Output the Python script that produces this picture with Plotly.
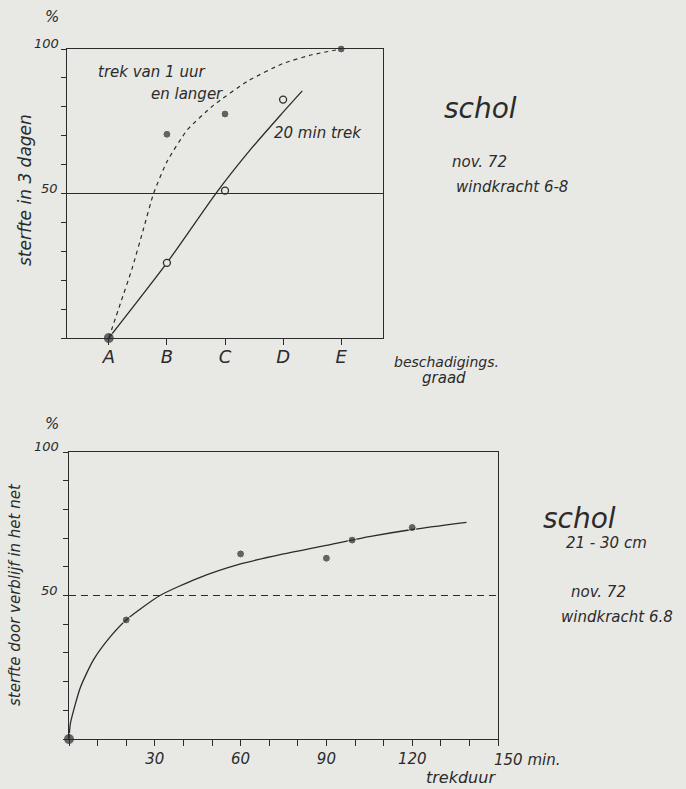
import plotly.graph_objects as go

# ---------------- data ----------------
# top chart: mortality within 3 days vs damage grade
categories = ["A", "B", "C", "D", "E"]
hour_cats = ["A", "B", "C", "E"]          # tows of 1 hour and longer (filled dots)
hour_vals = [0, 70.5, 77.5, 100]
min20_cats = ["B", "C", "D"]               # 20 min tows (open circles)
min20_vals = [26, 51, 82.5]
# hand drawn fitted curves (x in category units, A=0 ... E=4)
hour_curve_x = [0, 0.2, 0.4, 0.6, 0.77, 1.0, 1.35, 1.8, 2.4, 3.0, 3.5, 4.0]
hour_curve_y = [0, 12, 24, 38, 50, 61, 72, 80.5, 89, 95, 98, 100]
min20_curve_x = [0, 1.0, 1.86, 2.43, 2.95, 3.33]
min20_curve_y = [0, 26, 50.5, 65, 77, 85.5]

# bottom chart: mortality due to stay in the net vs tow duration
tow_minutes = [0, 20, 60, 90, 99, 120]
tow_mort = [0, 41.5, 64.5, 63, 69.3, 73.7]
tow_curve_x = [0, 0.5, 4, 8.5, 14.4, 20, 31.8, 45, 60, 75, 90, 105, 120, 139]
tow_curve_y = [0, 5.5, 18, 27.5, 35.6, 41.5, 50, 56, 61, 64.5, 67.5, 70.5, 73, 75.5]

reference_level = 50
y_ticks = list(range(0, 101, 10))
x_ticks_min = list(range(0, 151, 10))
x_labels_min = {30: "30", 60: "60", 90: "90", 120: "120"}

# ---------------- style ----------------
W, H = 686, 789
INK = "#2b2b2b"
BG = "#e8e8e4"
FONT = "DejaVu Sans"


def px(x):
    return x / W


def py(y):
    return 1 - y / H


cat_pos = {c: i for i, c in enumerate(categories)}

fig = go.Figure()

# top chart traces
fig.add_trace(go.Scatter(x=hour_curve_x, y=hour_curve_y, mode="lines",
                         line=dict(color=INK, width=1.2, dash="4px,4px", shape="spline", smoothing=0.5),
                         xaxis="x", yaxis="y", hoverinfo="skip", showlegend=False))
fig.add_trace(go.Scatter(x=min20_curve_x, y=min20_curve_y, mode="lines",
                         line=dict(color=INK, width=1.3, shape="spline", smoothing=0.6),
                         xaxis="x", yaxis="y", hoverinfo="skip", showlegend=False))
fig.add_trace(go.Scatter(x=[cat_pos[c] for c in hour_cats], y=hour_vals, mode="markers",
                         marker=dict(color=INK, size=[11, 8, 8, 8]), cliponaxis=False,
                         xaxis="x", yaxis="y", showlegend=False))
fig.add_trace(go.Scatter(x=[cat_pos[c] for c in min20_cats], y=min20_vals, mode="markers",
                         marker=dict(color=BG, size=7, line=dict(color=INK, width=1.3)),
                         cliponaxis=False, xaxis="x", yaxis="y", showlegend=False))

# bottom chart traces
fig.add_trace(go.Scatter(x=tow_curve_x, y=tow_curve_y, mode="lines",
                         line=dict(color=INK, width=1.3, shape="spline", smoothing=0.6),
                         xaxis="x2", yaxis="y2", hoverinfo="skip", showlegend=False))
fig.add_trace(go.Scatter(x=tow_minutes, y=tow_mort, mode="markers",
                         marker=dict(color=INK, size=[11, 8, 8, 8, 8, 8]), cliponaxis=False,
                         xaxis="x2", yaxis="y2", showlegend=False))

axis_common = dict(showgrid=False, zeroline=False, showline=True, mirror=True,
                   linecolor=INK, linewidth=1.3, ticks="outside", tickcolor=INK,
                   tickwidth=1.2, fixedrange=True)

fig.update_layout(
    width=W, height=H, margin=dict(l=0, r=0, t=0, b=0),
    paper_bgcolor=BG, plot_bgcolor=BG,
    font=dict(family=FONT, color=INK, style="italic"),
    xaxis=dict(domain=[px(67), px(383)], range=[-0.72, 4.72], tickvals=list(range(len(categories))),
               ticktext=categories, ticklen=6, tickfont=dict(size=18, style="italic"),
               ticklabelstandoff=-4, anchor="y", **axis_common),
    yaxis=dict(domain=[py(338), py(49)], range=[0, 100], tickvals=y_ticks,
               ticktext=[""] * len(y_ticks), ticklen=5, anchor="x", **axis_common),
    xaxis2=dict(domain=[px(69), px(498)], range=[0, 150], tickvals=x_ticks_min,
                ticktext=[x_labels_min.get(v, "") for v in x_ticks_min], ticklen=6,
                tickfont=dict(size=15, style="italic"), anchor="y2", **axis_common),
    yaxis2=dict(domain=[py(739), py(452)], range=[0, 100], tickvals=y_ticks,
                ticktext=[""] * len(y_ticks), ticklen=5, anchor="x2", **axis_common),
    shapes=[
        dict(type="line", xref="x domain", yref="y", x0=0, x1=1, y0=reference_level, y1=reference_level,
             line=dict(color=INK, width=1.2)),
        dict(type="line", xref="x2 domain", yref="y2", x0=0, x1=1, y0=reference_level, y1=reference_level,
             line=dict(color=INK, width=1.2, dash="7px,5px")),
    ],
)


def note(text, x, y, size, xanchor="center", angle=0):
    fig.add_annotation(text=text, x=x, y=y, xref="paper", yref="paper", showarrow=False,
                       xanchor=xanchor, yanchor="middle", textangle=angle,
                       font=dict(family=FONT, size=size, color=INK, style="italic"))


# y tick labels (only 100 and 50 are labelled, written just above the tick)
for top_y, mid_y, pct_y in [(43, 188, 17), (446, 590, 424)]:
    note("100", px(61), py(top_y), 13, xanchor="right")
    note("50", px(60), py(mid_y), 13, xanchor="right")
    note("%", px(52), py(pct_y), 15)

# top chart texts
note("sterfte in 3 dagen", px(25), py(190), 17, angle=-90)
note("trek van 1 uur", px(151), py(72), 15)
note("en langer", px(187), py(94), 15)
note("20 min trek", px(318), py(133), 15)
note("schol", px(480), py(108), 28)
note("nov. 72", px(479), py(162), 15)
note("windkracht 6-8", px(512), py(187), 15)
note("beschadigings.", px(446), py(362), 14)
note("graad", px(444), py(378), 15)

# bottom chart texts
note("sterfte door verblijf in het net", px(15), py(595), 15, angle=-90)
note("150 min.", px(492), py(760), 15, xanchor="left")
note("trekduur", px(461), py(777), 16)
note("schol", px(579), py(518), 28)
note("21 - 30 cm", px(606), py(543), 15)
note("nov. 72", px(598), py(592), 15)
note("windkracht 6.8", px(617), py(617), 15)

fig.write_html("out.html", config={"displayModeBar": False},
               post_script="document.body.style.margin='0';document.body.style.overflow='hidden';")
